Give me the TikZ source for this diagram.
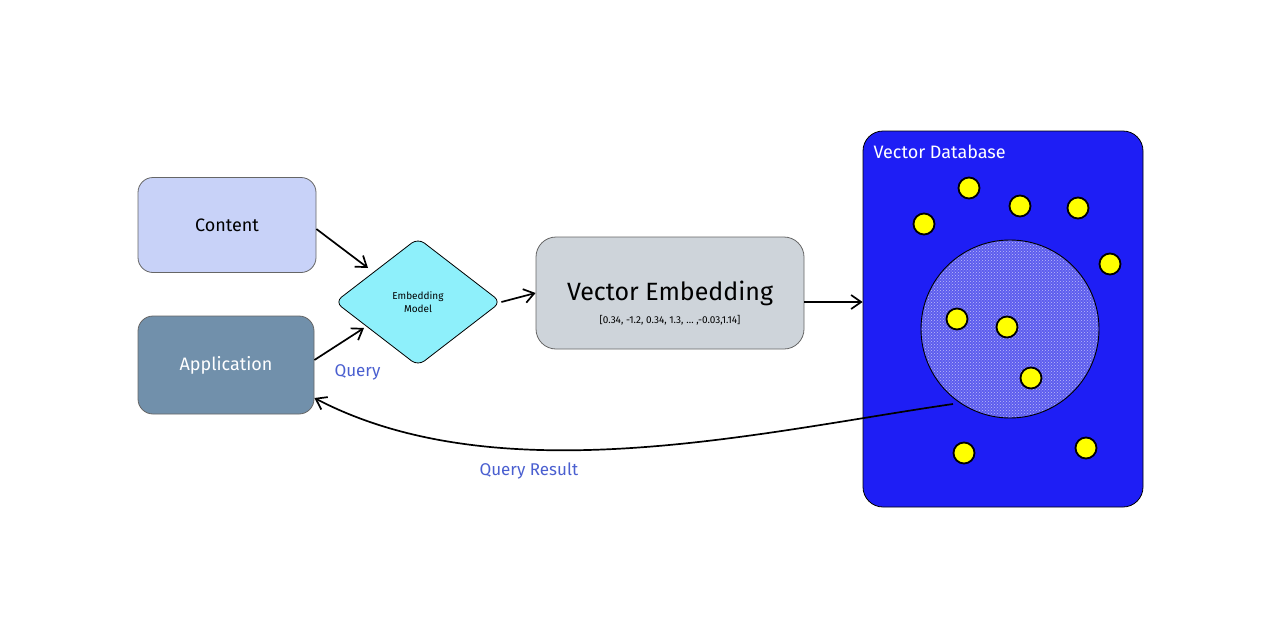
\documentclass[tikz,border=0pt]{standalone}
\usepackage{fontspec}
\setmainfont{Fira Sans}
\usetikzlibrary{shapes.geometric,arrows.meta,patterns}
\definecolor{contentc}{HTML}{C8D2F8}
\definecolor{appc}{HTML}{7190AB}
\definecolor{modelc}{HTML}{8EF0FB}
\definecolor{embc}{HTML}{CED4DA}
\definecolor{dbc}{HTML}{1E1EF5}
\definecolor{clusterc}{HTML}{5C5CEE}
\definecolor{labelc}{HTML}{4A5FD0}
\definecolor{dotc}{HTML}{FFFF00}
\tikzset{
  box/.style={draw=black!60, line width=0.8pt, rounded corners=15pt, minimum width=178pt, minimum height=95pt, font=\fontsize{18}{20}\selectfont},
  conn/.style={-{Straight Barb[length=10pt,width=14pt]}, line width=1.7pt},
  dot/.style={circle, draw=black, line width=1.8pt, fill=dotc, minimum size=21pt, inner sep=0pt},
  lbl/.style={text=labelc, font=\fontsize{17}{19}\selectfont}
}
\begin{document}
\begin{tikzpicture}[x=1pt,y=-1pt]
\useasboundingbox (0,0) rectangle (1280,640);
\fill[white] (0,0) rectangle (1280,640);
\node[box, fill=contentc] (content) at (227,225) {Content};
\node[box, fill=appc, text=white, minimum width=176pt, minimum height=98pt] (app) at (226,365) {Application};
\node[diamond, draw=black, line width=0.8pt, rounded corners=8pt, fill=modelc, minimum width=166pt, minimum height=128pt, inner sep=0pt, align=center, font=\fontsize{10}{13}\selectfont] (model) at (418,302) {Embedding\\Model};
\node[box, fill=embc, minimum width=268pt, minimum height=112pt, rounded corners=20pt, align=center] (emb) at (670,293) {};
\node[font=\fontsize{25}{28}\selectfont] (embt) at (670,293) {Vector Embedding};
\node[font=\fontsize{10}{12}\selectfont] (embv) at (670,320) {[0.34, -1.2, 0.34, 1.3, \dots\ ,-0.03,1.14]};
\node[draw=black, line width=0.8pt, fill=dbc, rounded corners=20pt, minimum width=280pt, minimum height=376pt, inner sep=0pt] (db) at (1003,319) {};
\node[anchor=west, text=white, font=\fontsize{18}{20}\selectfont] (dbt) at (870,152) {Vector Database};
\node[circle, draw=black, line width=0.9pt, fill=clusterc, minimum size=178pt, inner sep=0pt] (cluster) at (1010,329) {};
\fill[pattern=crosshatch dots, pattern color=white!60!clusterc] (cluster.center) circle (88pt);
\foreach \n/\x/\y in {d1/924/224, d2/969/188, d3/1020/206, d4/1078/208, d5/1110/264, d6/957/319, d7/1007/327, d8/1031/378, d9/964/453, d10/1086/448}
  \node[dot] (\n) at (\x,\y) {};
\coordinate (cin) at (953,404);
\draw[conn] (content.east |- 0,229) -- (368,268);
\draw[conn] (app.east |- 0,360) -- (364,328);
\draw[conn] (model.east) -- (emb.west);
\draw[conn] (emb.east |- 0,302) -- (db.west |- 0,302);
\draw[conn] (cin) .. controls (760,432) and (500,495) .. (app.east |- 0,398);
\node[lbl, anchor=west] (q) at (331,372) {Query};
\node[lbl, anchor=west] (qr) at (476,471) {Query Result};
\end{tikzpicture}
\end{document}
